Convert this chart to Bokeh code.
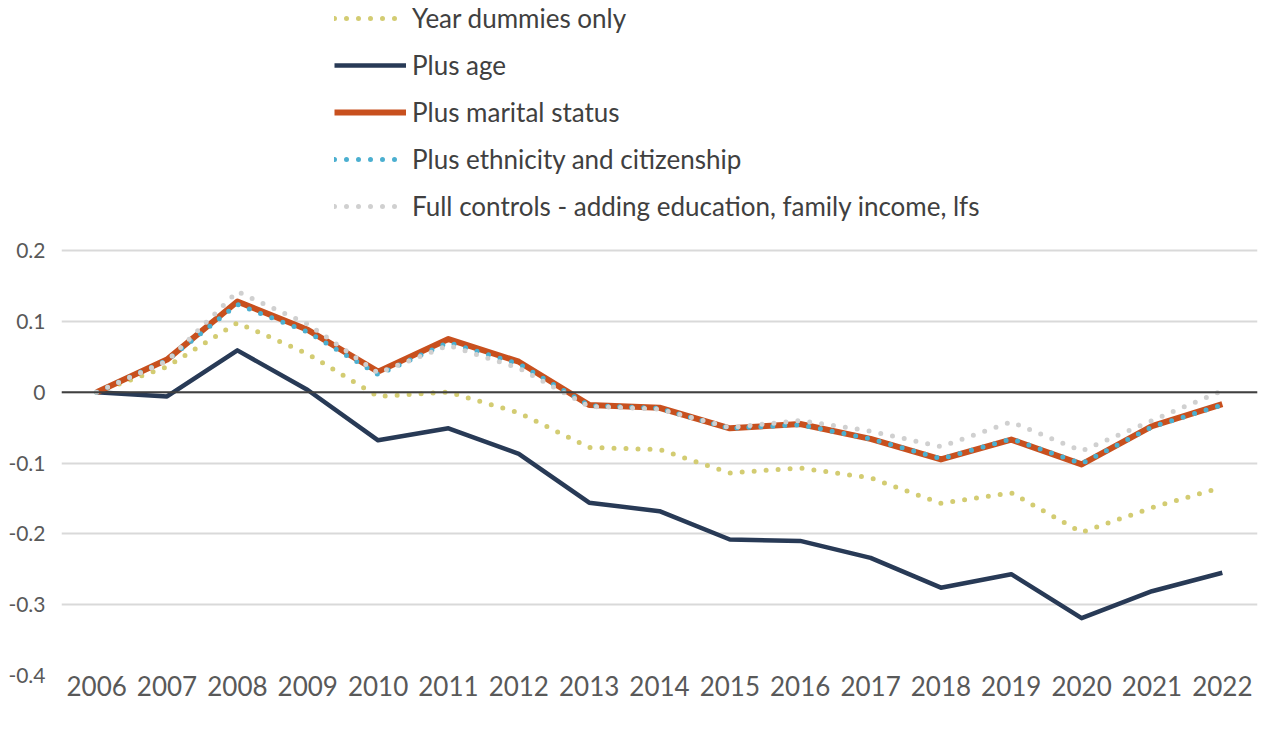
from bokeh.plotting import figure
from bokeh.layouts import column
from bokeh.models import Legend, LegendItem, Span, FixedTicker, Range1d, FactorRange
from bokeh.embed import file_html
from bokeh.resources import INLINE

years = [str(y) for y in range(2006, 2023)]

year_dummies = [0.000, 0.036, 0.098, 0.054, -0.006, 0.000, -0.029, -0.078, -0.081,
                -0.114, -0.107, -0.121, -0.157, -0.142, -0.198, -0.163, -0.134]
plus_age = [0.000, -0.006, 0.059, 0.003, -0.068, -0.051, -0.087, -0.156, -0.168,
            -0.208, -0.210, -0.234, -0.276, -0.257, -0.319, -0.281, -0.255]
plus_marital = [0.000, 0.046, 0.128, 0.088, 0.029, 0.075, 0.043, -0.018, -0.022,
                -0.051, -0.045, -0.066, -0.095, -0.067, -0.102, -0.048, -0.017]
plus_ethnicity = [0.000, 0.045, 0.124, 0.085, 0.025, 0.070, 0.040, -0.019, -0.023,
                  -0.051, -0.046, -0.066, -0.094, -0.066, -0.101, -0.049, -0.018]
full_controls = [0.000, 0.044, 0.142, 0.096, 0.027, 0.066, 0.034, -0.020, -0.024,
                 -0.050, -0.040, -0.055, -0.077, -0.042, -0.083, -0.040, 0.002]

labels = ["Year dummies only", "Plus age", "Plus marital status",
          "Plus ethnicity and citizenship",
          "Full controls - adding education, family income, lfs"]
y_ticks = [0.2, 0.1, 0.0, -0.1, -0.2, -0.3, -0.4]
y_tick_labels = ["0.2", "0.1", "0", "-0.1", "-0.2", "-0.3", "-0.4"]

FONT = "Lato"
series_styles = [
    dict(line_color="#D3CC72", line_width=5, line_dash="0 12", line_cap="round"),
    dict(line_color="#283A56", line_width=4.5, line_join="round"),
    dict(line_color="#C8501E", line_width=6, line_join="round"),
    dict(line_color="#4BAFD0", line_width=5, line_dash="0 12", line_cap="round"),
    dict(line_color="#D0D0D0", line_width=5, line_dash="0 12", line_cap="round"),
]
series = [year_dummies, plus_age, plus_marital, plus_ethnicity, full_controls]

# ---- main chart ----
p = figure(width=1259, height=486, output_backend="svg", toolbar_location=None,
           x_range=FactorRange(*years, range_padding=0),
           y_range=Range1d(-0.4, 0.2113),
           min_border_left=61, min_border_right=2, min_border_top=12,
           min_border_bottom=41)
p.outline_line_color = None
p.background_fill_color = "white"
p.border_fill_color = "white"
p.xgrid.grid_line_color = None
p.ygrid.grid_line_color = "#D9D9D9"
p.ygrid.grid_line_width = 2

for ax in (p.xaxis, p.yaxis):
    ax.axis_line_color = None
    ax.major_tick_line_color = None
    ax.minor_tick_line_color = None
    ax.major_tick_out = 0
    ax.major_tick_in = 0
    ax.minor_tick_out = 0
    ax.major_label_text_font = FONT
    ax.major_label_text_color = "#595959"

p.yaxis.ticker = FixedTicker(ticks=y_ticks)
p.yaxis.major_label_overrides = {t: l for t, l in zip(y_ticks, y_tick_labels)}
p.yaxis.major_label_text_font_size = "21px"
p.yaxis.major_label_standoff = 16
p.xaxis.major_label_text_font_size = "26px"
p.xaxis.major_label_text_line_height = 0.8
p.xaxis.major_label_standoff = 0

p.add_layout(Span(location=0, dimension="width", line_color="#404040", line_width=2))

for vals, st in zip(series, series_styles):
    p.line(years, vals, **st)

# ---- legend panel (series drawn out of view; only the legend shows) ----
lg = figure(width=1259, height=230, output_backend="svg", toolbar_location=None,
            x_range=FactorRange(*years, range_padding=0), y_range=Range1d(10, 11),
            x_axis_type=None, y_axis_type=None,
            min_border=0, min_border_left=0, min_border_right=0,
            min_border_top=0, min_border_bottom=0)
lg.outline_line_color = None
lg.grid.visible = False
lg_renderers = [lg.line(years, vals, **st) for vals, st in zip(series, series_styles)]

legend = Legend(items=[LegendItem(label=l, renderers=[r]) for l, r in zip(labels, lg_renderers)],
                location=(273, 8), orientation="vertical",
                glyph_width=72, glyph_height=32, label_height=32, label_standoff=6,
                spacing=15, padding=0, margin=0,
                label_text_font=FONT, label_text_font_size="26px", label_text_color="#404040",
                border_line_color=None, background_fill_alpha=0)
lg.add_layout(legend, "center")

layout = column(lg, p, spacing=0)
open("out.html", "w").write(file_html(layout, INLINE))
